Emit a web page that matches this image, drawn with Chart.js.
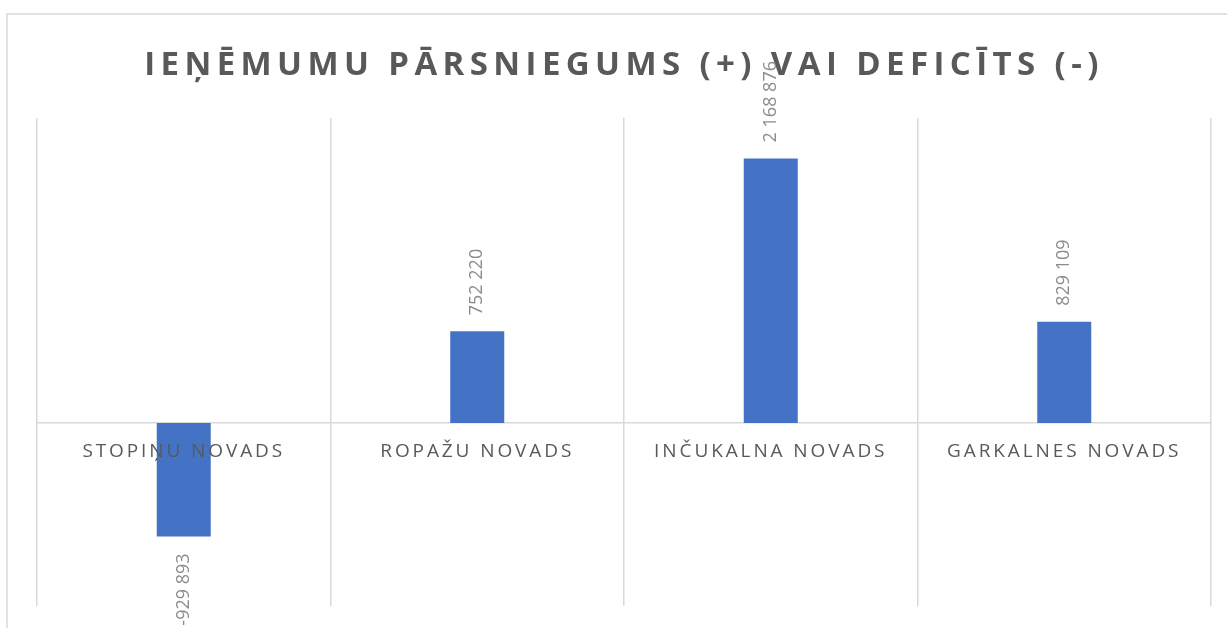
<!DOCTYPE html>
<html>
<head>
<meta charset="utf-8">
<script src="https://cdn.jsdelivr.net/npm/chart.js"></script>
<style>
    html, body { margin: 0; padding: 0; background: #ffffff; }
    #wrap { width: 1227px; height: 628px; position: relative; }
</style>
</head>
<body>
<div id="wrap"><canvas id="chart"></canvas></div>
<script>
const chartTitle = 'IEŅĒMUMU PĀRSNIEGUMS (+) VAI DEFICĪTS (-)';
const categories = ['STOPIŅU NOVADS', 'ROPAŽU NOVADS', 'INČUKALNA NOVADS', 'GARKALNES NOVADS'];
const values = [-929893, 752220, 2168876, 829109];
const yMin = -1500000;
const yMax = 2500000;

function formatValue(v) {
    const s = String(Math.abs(v)).replace(/\B(?=(\d{3})+(?!\d))/g, ' ');
    return (v < 0 ? '-' : '') + s;
}

// letter spacing for title / tick labels, frame, rotated value labels
const extras = {
    id: 'extras',
    beforeDraw(chart) {
        const ctx = chart.ctx;
        ctx.save();
        ctx.strokeStyle = '#d9d9d9';
        ctx.lineWidth = 1.5;
        ctx.beginPath();
        ctx.moveTo(7, chart.height);
        ctx.lineTo(7, 14);
        ctx.lineTo(chart.width, 14);
        ctx.stroke();
        ctx.restore();
        ctx.letterSpacing = '5.4px';
    },
    beforeDatasetsDraw(chart) {
        chart.ctx.letterSpacing = '0px';
    },
    afterDatasetsDraw(chart) {
        const ctx = chart.ctx;
        const meta = chart.getDatasetMeta(0);
        meta.data.forEach((bar, i) => {
            const v = values[i];
            ctx.save();
            ctx.font = '18px "Open Sans"';
            ctx.fillStyle = '#8c8c8c';
            ctx.textBaseline = 'middle';
            if (v >= 0) {
                ctx.translate(bar.x, bar.y - 16);
                ctx.textAlign = 'left';
            } else {
                ctx.translate(bar.x, bar.y + 17);
                ctx.textAlign = 'right';
            }
            ctx.rotate(-Math.PI / 2);
            ctx.fillText(formatValue(v), 0, 0);
            ctx.restore();
        });
        ctx.letterSpacing = '2.9px';
    },
    afterDraw(chart) {
        chart.ctx.letterSpacing = '0px';
    }
};

new Chart(document.getElementById('chart'), {
    type: 'bar',
    data: {
        labels: categories,
        datasets: [{
            data: values,
            backgroundColor: '#4472C4',
            categoryPercentage: 1,
            barPercentage: 0.184
        }]
    },
    options: {
        responsive: true,
        maintainAspectRatio: false,
        animation: false,
        layout: { padding: { top: 1, left: 37, right: 16, bottom: 22 } },
        plugins: {
            legend: { display: false },
            tooltip: { enabled: false },
            title: {
                display: true,
                text: chartTitle,
                color: '#595959',
                font: { family: 'Open Sans', size: 33, weight: 'bold' },
                padding: { top: 45, bottom: 32.4 }
            }
        },
        scales: {
            x: {
                type: 'category',
                position: { y: 0 },
                offset: true,
                grid: { display: true, color: '#d9d9d9', lineWidth: 1.5, drawTicks: false, offset: true },
                border: { display: true, color: '#d9d9d9', width: 1.5 },
                ticks: {
                    color: '#595959',
                    font: { family: 'Open Sans', size: 19 },
                    padding: 17,
                    autoSkip: false,
                    maxRotation: 0,
                    z: 1
                }
            },
            y: {
                display: false,
                min: yMin,
                max: yMax,
                grid: { display: false }
            }
        }
    },
    plugins: [extras]
});
</script>
</body>
</html>
